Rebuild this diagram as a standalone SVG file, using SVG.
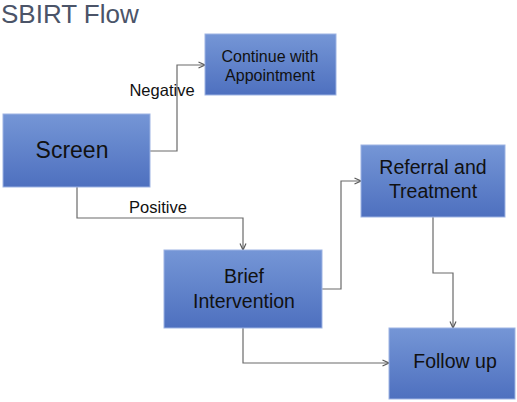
<svg xmlns="http://www.w3.org/2000/svg" width="517" height="402" viewBox="0 0 517 402">
<defs>
<linearGradient id="g" x1="0" y1="0" x2="0" y2="1">
<stop offset="0" stop-color="#7596d6"/>
<stop offset="1" stop-color="#4e70bf"/>
</linearGradient>
<marker id="a" viewBox="0 0 8 8" refX="7.5" refY="4" markerWidth="8" markerHeight="8" markerUnits="userSpaceOnUse" orient="auto">
<path d="M1,1 L7.5,4 L1,7" fill="none" stroke="#5a5a5a" stroke-width="1.2"/>
</marker>
</defs>
<style>
.box{fill:url(#g);stroke:#9db3e3;stroke-width:1}
.t{font-family:"Liberation Sans",Arial,sans-serif;fill:#111;text-anchor:middle}
.c{fill:none;stroke:#6a6a6a;stroke-width:1.2;marker-end:url(#a)}
.l{font-family:"Liberation Sans",Arial,sans-serif;fill:#111;font-size:16.5px;text-anchor:middle}
</style>
<rect width="517" height="402" fill="#fff"/>
<text x="1" y="23" style="font-family:'Liberation Sans',Arial,sans-serif;font-size:26px;fill:#4b5468">SBIRT Flow</text>
<g id="connectors">
<path class="c" d="M150,151 H177 V65 H205"/>
<path class="c" d="M77,187 V218 H243 V250"/>
<path class="c" d="M322,289 H341 V181 H361"/>
<path class="c" d="M433,217 V273 H453 V328"/>
<path class="c" d="M243,328 V363 H389"/>
<text class="l" x="162" y="96">Negative</text>
<text class="l" x="158" y="213">Positive</text>
</g>
<g id="continue">
<rect class="box" x="205" y="34" width="131" height="61"/>
<text class="t" x="270" y="62" font-size="16">Continue with</text>
<text class="t" x="270" y="81" font-size="16">Appointment</text>
</g>
<g id="screen">
<rect class="box" x="3" y="114" width="147" height="73"/>
<text class="t" x="72" y="158" font-size="23">Screen</text>
</g>
<g id="brief">
<rect class="box" x="164" y="250" width="158" height="78"/>
<text class="t" x="244" y="283" font-size="19.5">Brief</text>
<text class="t" x="244" y="308" font-size="19.5">Intervention</text>
</g>
<g id="referral">
<rect class="box" x="361" y="145" width="144" height="72"/>
<text class="t" x="433" y="174" font-size="19.5">Referral and</text>
<text class="t" x="433" y="198" font-size="19.5">Treatment</text>
</g>
<g id="followup">
<rect class="box" x="389" y="328" width="126" height="71"/>
<text class="t" x="455" y="368" font-size="19.5">Follow up</text>
</g>
</svg>
